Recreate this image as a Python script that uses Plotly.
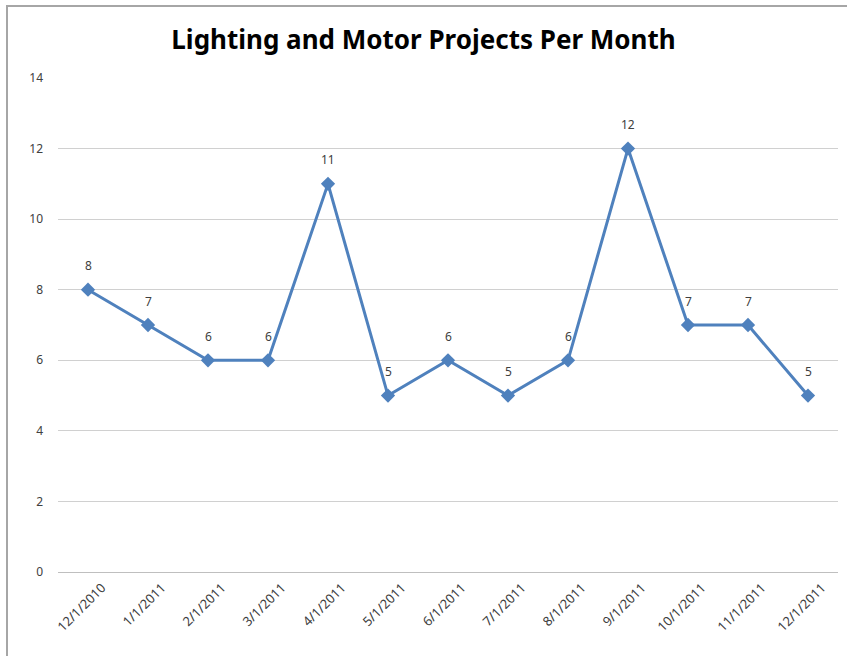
import plotly.graph_objects as go

months = ["12/1/2010", "1/1/2011", "2/1/2011", "3/1/2011", "4/1/2011", "5/1/2011",
          "6/1/2011", "7/1/2011", "8/1/2011", "9/1/2011", "10/1/2011", "11/1/2011", "12/1/2011"]
projects = [8, 7, 6, 6, 11, 5, 6, 5, 6, 12, 7, 7, 5]
y_ticks = [0, 2, 4, 6, 8, 10, 12, 14]
title_text = "Lighting and Motor Projects Per Month"

W, H = 847, 656
L, R, T, B = 58, 838, 78, 572

xs = list(range(len(months)))

fig = go.Figure()
fig.add_trace(go.Scatter(
    x=xs, y=projects,
    mode="lines+markers",
    line=dict(color="#4F81BD", width=3),
    marker=dict(symbol="diamond", size=11, color="#4F81BD"),
    cliponaxis=False,
    hoverinfo="skip",
))

annotations = [dict(x=x, y=v, text=str(v), showarrow=False, yshift=24,
                    font=dict(family="Noto Sans", size=12, color="#404040"))
               for x, v in zip(xs, projects)]

pw, ph = R - L, B - T
def px(x):
    return (x - L) / pw
def py(y):
    return (B - y) / ph

fig.update_layout(
    width=W, height=H,
    margin=dict(l=L, r=W - R, t=T, b=H - B),
    paper_bgcolor="white", plot_bgcolor="white",
    showlegend=False,
    annotations=annotations,
    title=dict(text="<b>" + title_text + "</b>", x=0.5, xanchor="center",
               y=1 - 40 / H, yanchor="middle",
               font=dict(family="Noto Sans", size=26, color="#000000")),
    xaxis=dict(
        range=[-0.5, len(months) - 0.5],
        tickmode="array", tickvals=xs, ticktext=months,
        tickangle=-45, tickfont=dict(family="Noto Sans", size=13, color="#404040"),
        ticklabelshift=14, ticklabelstandoff=2,
        showgrid=False, zeroline=False,
        showline=True, linecolor="#BFBFBF", linewidth=1,
        ticks="", fixedrange=True,
    ),
    yaxis=dict(
        range=[0, 14], tickmode="array", tickvals=y_ticks,
        tickfont=dict(family="Noto Sans", size=12, color="#404040"),
        showgrid=True, gridcolor="#D0D0D0", gridwidth=1,
        zeroline=False, showline=False, ticks="", ticklabelstandoff=14,
        fixedrange=True,
    ),
    shapes=[dict(type="rect", xref="paper", yref="paper",
                 x0=px(7), x1=px(W + 10), y0=py(H + 10), y1=py(6),
                 line=dict(color="#A6A6A6", width=2), fillcolor="rgba(0,0,0,0)",
                 layer="below")],
)

fig.write_html("out.html", config={"displayModeBar": False},
               post_script="document.body.style.margin='0';document.body.style.overflow='hidden';")
